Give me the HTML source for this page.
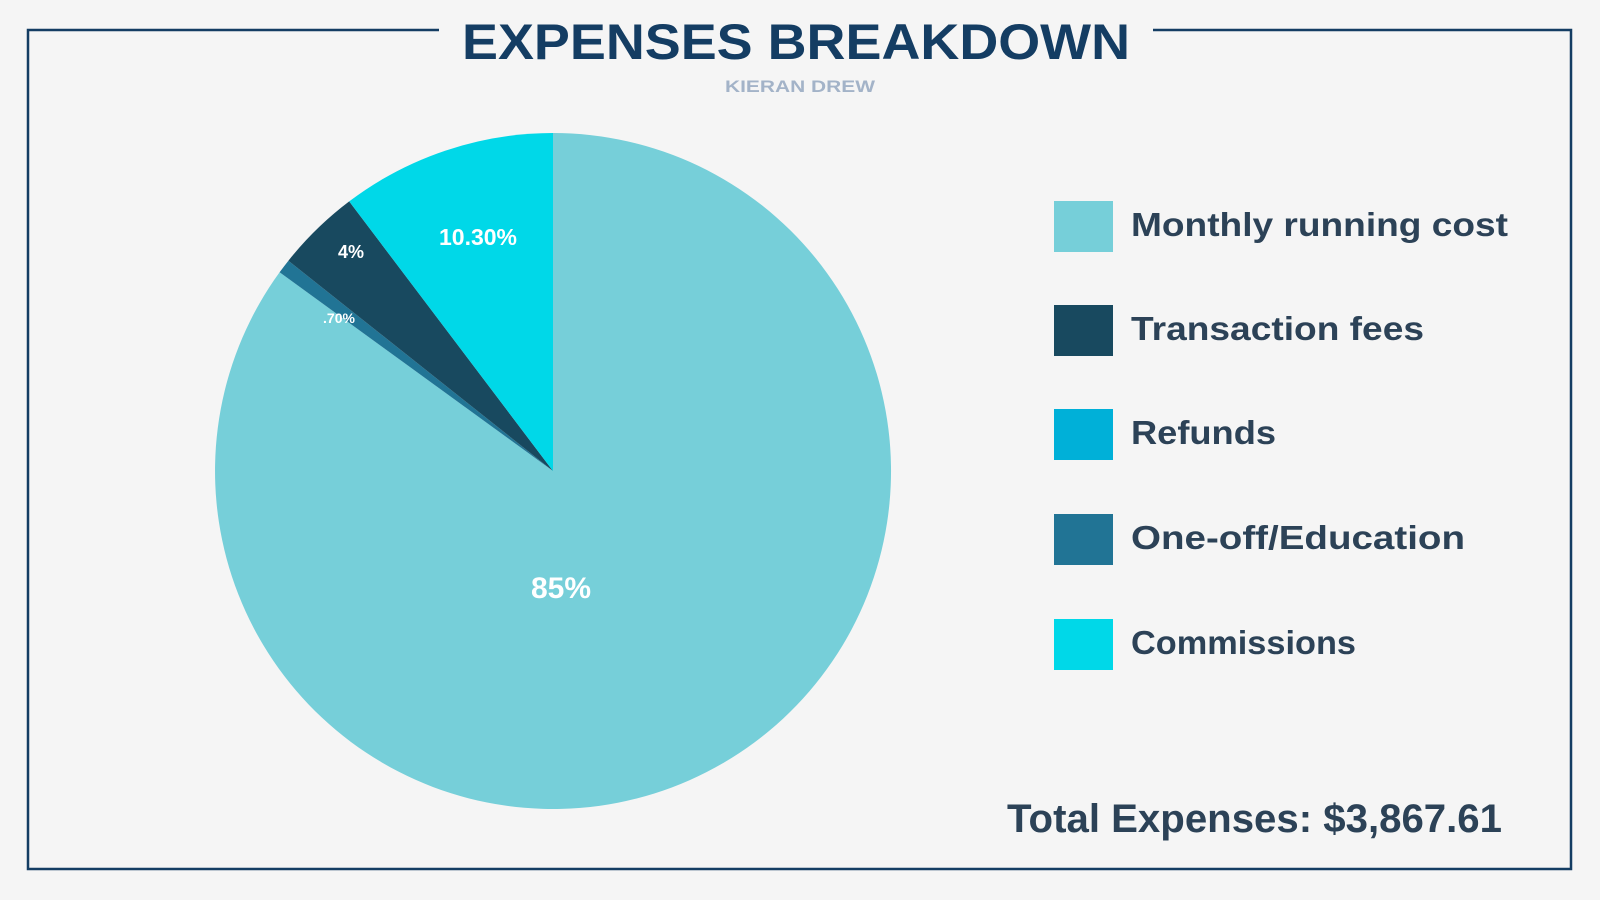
<!DOCTYPE html>
<html><head><meta charset="utf-8"><style>
html,body{margin:0;padding:0;background:#f5f5f5;}
svg{display:block}
text{font-family:"Liberation Sans",sans-serif;font-weight:bold}
</style></head><body>
<svg width="1600" height="900" viewBox="0 0 1600 900">
<rect width="1600" height="900" fill="#f5f5f5"/>
<path d="M439 30 H28 V869 H1571 V30 H1153" fill="none" stroke="#143d63" stroke-width="2.5"/>
<text x="796" y="59" text-anchor="middle" font-size="50" fill="#143d63" textLength="668" lengthAdjust="spacingAndGlyphs">EXPENSES BREAKDOWN</text>
<text x="800" y="92" text-anchor="middle" font-size="17" fill="#a3b3c8" textLength="150" lengthAdjust="spacingAndGlyphs">KIERAN DREW</text>
<g transform="translate(553,471)">
<path d="M0 0 L0 -338 A338 338 0 1 1 -273.4 -198.7 Z" fill="#76cfd9"/>
<path d="M0 0 L-273.4 -198.7 A338 338 0 0 1 -264.6 -210.3 Z" fill="#217495"/>
<path d="M0 0 L-264.6 -210.3 A338 338 0 0 1 -203.8 -269.6 Z" fill="#18495f"/>
<path d="M0 0 L-203.8 -269.6 A338 338 0 0 1 0 -338 Z" fill="#00d8e8"/>
</g>
<text x="561" y="598" text-anchor="middle" font-size="30" fill="#fff">85%</text>
<text x="478" y="245" text-anchor="middle" font-size="23" fill="#fff">10.30%</text>
<text x="351" y="258" text-anchor="middle" font-size="18" fill="#fff">4%</text>
<text x="339" y="323" text-anchor="middle" font-size="14" fill="#fff">.70%</text>
<rect x="1054" y="201" width="59" height="51" fill="#76cfd9"/>
<rect x="1054" y="305" width="59" height="51" fill="#18495f"/>
<rect x="1054" y="409" width="59" height="51" fill="#00b0d8"/>
<rect x="1054" y="514" width="59" height="51" fill="#217495"/>
<rect x="1054" y="619" width="59" height="51" fill="#00d8e8"/>
<g font-size="33" fill="#2c4257">
<text x="1131" y="236" textLength="377" lengthAdjust="spacingAndGlyphs">Monthly running cost</text>
<text x="1131" y="340" textLength="293" lengthAdjust="spacingAndGlyphs">Transaction fees</text>
<text x="1131" y="444" textLength="145" lengthAdjust="spacingAndGlyphs">Refunds</text>
<text x="1131" y="549" textLength="334" lengthAdjust="spacingAndGlyphs">One-off/Education</text>
<text x="1131" y="654" textLength="225" lengthAdjust="spacingAndGlyphs">Commissions</text>
</g>
<text x="1007" y="832" font-size="40" fill="#2c4257" textLength="495" lengthAdjust="spacingAndGlyphs">Total Expenses: $3,867.61</text>
</svg>
</body></html>
